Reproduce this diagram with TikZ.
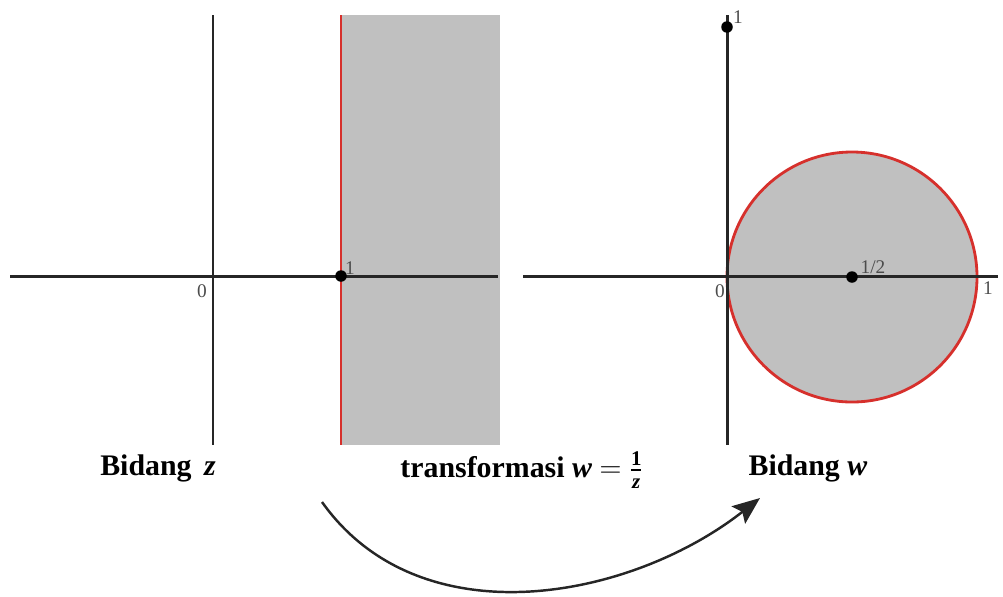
\documentclass[tikz,border=0pt]{standalone}
\usepackage{amsmath}
\usepackage{fontspec}
\setmainfont{Liberation Serif}
\usetikzlibrary{arrows.meta}
\definecolor{planered}{RGB}{214,48,44}
\definecolor{planegray}{RGB}{192,192,192}

\begin{document}
\begin{tikzpicture}[
  x=0.02cm, y=-0.02cm,
  ax/.style     = {draw, line width=1.7pt, black!85},
  edge/.style   = {draw, line width=1.6pt, planered},
  pt/.style     = {circle, fill=black, inner sep=0pt, minimum size=2.3mm},
  tk/.style     = {inner sep=0.5pt, font=\fontsize{11}{12}\selectfont, text=black!70},
  title/.style  = {inner sep=0pt, font=\fontsize{17}{20}\selectfont\bfseries},
  maparr/.style = {draw, line width=1.4pt, black!85,
                   -{Stealth[length=5.5mm, width=4.4mm, inset=1mm]}},
]
\useasboundingbox (0,0) rectangle (1003,596);

% ---------- bidang z ----------
\fill[planegray] (341,15) rectangle (500,445);
\draw[ax] (10,276) -- (498,276);
\draw[ax] (213,15) -- (213,445);
\draw[edge] (341,15) -- (341,445);
\node[pt] (zone) at (341,276) {};
\node[tk] (zonelbl) at (350,268) {1};
\node[tk] (zzero) at (202,291) {0};

% ---------- bidang w ----------
\draw[edge, fill=planegray] (852,277) circle (125);
\draw[ax] (523,276) -- (998,276);
\draw[ax] (727,15) -- (727,445);
\node[pt] (wtop) at (727,27) {};
\node[tk] (wtoplbl) at (738,17) {1};
\node[pt] (whalf) at (852,277) {};
\node[tk] (whalflbl) at (873,267) {1/2};
\node[tk] (wzero) at (720,291) {0};
\node[tk] (wone) at (988,288) {1};

% ---------- labels ----------
\node[title] (zplane) at (158,468) {Bidang\, \textit{z}};
\node[title] (trans) at (522,470)
  {transformasi \textit{w} $=$ $\frac{\text{1}}{\text{\itshape z}}$};
\node[title] (wplane) at (808,468) {Bidang \textit{w}};

% ---------- mapping arrow ----------
\coordinate (arcstart) at (322,502);
\coordinate (arcend) at (760,498);
\draw[maparr] (arcstart) .. controls (420,640) and (630,600) .. (arcend);

\end{tikzpicture}
\end{document}
